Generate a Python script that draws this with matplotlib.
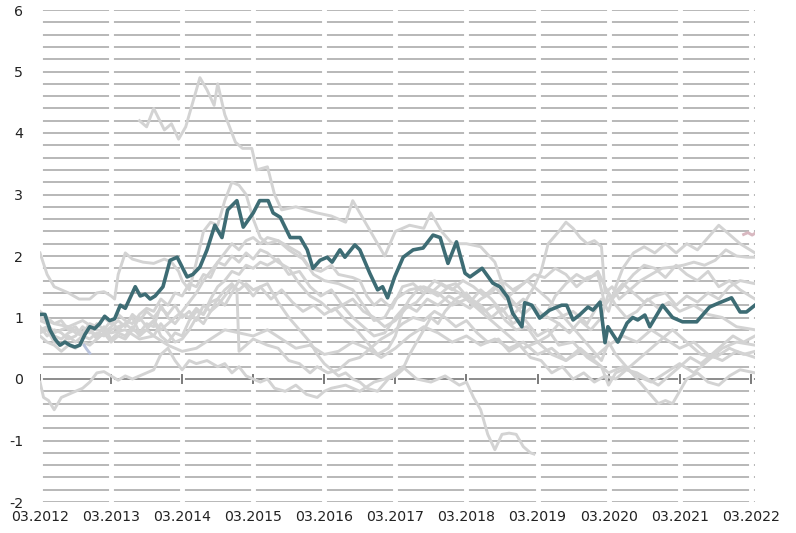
import numpy as np
import matplotlib.pyplot as plt

# x = years since 03.2012
year_labels = ["03.2012", "03.2013", "03.2014", "03.2015", "03.2016", "03.2017",
               "03.2018", "03.2019", "03.2020", "03.2021", "03.2022"]

main_t = [0.0, 0.07, 0.14, 0.21, 0.28, 0.35, 0.42, 0.49, 0.56, 0.63, 0.70, 0.77, 0.84, 0.91,
          0.98, 1.05, 1.13, 1.20, 1.34, 1.41, 1.48, 1.55, 1.62, 1.73, 1.83, 1.93, 2.07, 2.15,
          2.25, 2.35, 2.46, 2.56, 2.64, 2.77, 2.86, 3.0, 3.09, 3.21, 3.28, 3.38, 3.52, 3.66,
          3.76, 3.84, 3.94, 4.04, 4.11, 4.22, 4.29, 4.43, 4.50, 4.64, 4.75, 4.82, 4.89, 4.99,
          5.11, 5.25, 5.39, 5.53, 5.63, 5.74, 5.86, 5.98, 6.05, 6.22, 6.37, 6.47, 6.58, 6.65,
          6.78, 6.82, 6.92, 7.03, 7.17, 7.34, 7.41, 7.50, 7.59, 7.71, 7.78, 7.88, 7.95, 7.99,
          8.13, 8.26, 8.34, 8.41, 8.51, 8.58, 8.76, 8.90, 9.04, 9.24, 9.42, 9.56, 9.73, 9.85,
          9.94, 10.06]
main_v = [1.05, 1.05, 0.8, 0.65, 0.55, 0.6, 0.55, 0.52, 0.55, 0.72, 0.85, 0.82, 0.9, 1.02,
          0.95, 0.98, 1.2, 1.15, 1.5, 1.35, 1.38, 1.3, 1.35, 1.5, 1.93, 1.98, 1.66, 1.7,
          1.82, 2.1, 2.5, 2.3, 2.75, 2.9, 2.47, 2.7, 2.9, 2.9, 2.7, 2.63, 2.3, 2.3,
          2.1, 1.8, 1.93, 1.98, 1.9, 2.1, 1.98, 2.18, 2.1, 1.72, 1.45, 1.5, 1.32, 1.66,
          1.98, 2.1, 2.13, 2.34, 2.3, 1.88, 2.23, 1.72, 1.66, 1.8, 1.56, 1.5, 1.33, 1.07,
          0.85, 1.24, 1.2, 0.99, 1.12, 1.2, 1.2, 0.96, 1.04, 1.17, 1.12, 1.25, 0.59, 0.85,
          0.6, 0.91, 1.0, 0.96, 1.04, 0.85, 1.2, 1.0, 0.93, 0.93, 1.17, 1.24, 1.32, 1.09,
          1.09, 1.2]

g1_t = [1.4, 1.5, 1.6, 1.75, 1.85, 1.95, 2.05, 2.15, 2.25, 2.35, 2.45, 2.5, 2.6, 2.75, 2.85,
        2.98, 3.05, 3.2, 3.3, 3.4, 3.6, 3.9, 4.1, 4.3, 4.4, 4.55, 4.7, 4.85, 5.0, 5.2, 5.4,
        5.5, 5.65, 5.8, 6.0, 6.2, 6.4, 6.55, 6.7, 6.8, 7.0, 7.3]
g1_v = [4.2, 4.1, 4.4, 4.05, 4.15, 3.9, 4.1, 4.5, 4.9, 4.7, 4.45, 4.8, 4.3, 3.85, 3.75,
        3.75, 3.4, 3.45, 3.0, 2.75, 2.8, 2.7, 2.65, 2.55, 2.9, 2.6, 2.3, 2.0, 2.4, 2.5, 2.45,
        2.7, 2.4, 2.2, 2.2, 2.15, 1.9, 1.4, 1.2, 1.3, 1.1, 0.9]

g2_t = [0.0, 0.1, 0.2, 0.3, 0.4, 0.55, 0.7, 0.8, 0.9, 1.0, 1.05, 1.1, 1.2, 1.3, 1.45, 1.6,
        1.75, 1.85, 1.95, 2.0, 2.1, 2.2, 2.3, 2.4, 2.5, 2.6, 2.7, 2.8, 2.9, 3.0, 3.1, 3.2,
        3.35, 3.5, 3.7, 3.85, 4.0, 4.2, 4.4, 4.55, 4.7, 4.85, 5.0, 5.2, 5.4, 5.6, 5.8, 6.0,
        6.2, 6.4, 6.6, 6.8, 7.0, 7.2, 7.4, 7.6, 7.8, 8.0, 8.2, 8.4, 8.6, 8.8, 9.0, 9.2, 9.4,
        9.6, 9.8, 10.06]
g2_v = [2.05, 1.7, 1.5, 1.45, 1.4, 1.3, 1.3, 1.4, 1.42, 1.35, 1.3, 1.7, 2.05, 1.95, 1.9, 1.88,
        1.95, 1.9, 1.75, 1.6, 1.45, 1.9, 2.4, 2.55, 2.5, 2.9, 3.2, 3.15, 3.0, 2.6, 2.3, 2.2,
        2.25, 2.1, 1.95, 1.7, 1.6, 1.55, 1.45, 1.2, 0.95, 1.0, 1.3, 1.45, 1.5, 1.4, 1.2, 1.3,
        1.1, 0.9, 0.7, 0.5, 0.6, 0.4, 0.3, 0.5, 0.3, 0.1, 0.2, 0.05, -0.05, 0.1, 0.25, 0.1, 0.3,
        0.5, 0.6, 0.55]

g3_t = [0.0, 0.05, 0.12, 0.2, 0.3, 0.4, 0.5, 0.6, 0.7, 0.8, 0.9, 1.0, 1.1, 1.2, 1.3, 1.4,
        1.5, 1.6, 1.7, 1.8, 1.9, 2.0, 2.1, 2.2, 2.35, 2.5, 2.6, 2.7, 2.8, 2.9, 3.0, 3.1, 3.2,
        3.3, 3.45, 3.6, 3.75, 3.9, 4.0, 4.1, 4.3, 4.5, 4.7, 4.85, 5.0, 5.1, 5.3, 5.5, 5.7,
        5.9, 6.0, 6.1, 6.2, 6.3, 6.4, 6.5, 6.6, 6.7, 6.8, 6.9, 6.95]
g3_v = [-0.05, -0.3, -0.35, -0.5, -0.3, -0.25, -0.2, -0.15, -0.05, 0.1, 0.12, 0.05, -0.02,
        0.05, 0.0, 0.05, 0.1, 0.15, 0.4, 0.5, 0.3, 0.15, 0.3, 0.25, 0.3, 0.2, 0.25, 0.1, 0.2,
        0.05, 0.0, -0.05, 0.0, -0.15, -0.2, -0.1, -0.25, -0.3, -0.2, -0.15, -0.1, -0.2, -0.05,
        0.0, 0.1, 0.2, 0.0, -0.05, 0.05, -0.1, -0.05, -0.3, -0.5, -0.9, -1.15, -0.9, -0.88,
        -0.9, -1.1, -1.2, -1.22]

g4_t = [0.0, 0.1, 0.2, 0.3, 0.4, 0.5, 0.6, 0.7, 0.8, 0.9, 1.0, 1.1, 1.2, 1.3, 1.4, 1.5, 1.6,
        1.7, 1.8, 1.9, 2.0, 2.1, 2.2, 2.3, 2.4, 2.5, 2.6, 2.7, 2.8, 2.9, 3.0, 3.1, 3.2, 3.35,
        3.5, 3.65, 3.8, 3.95, 4.1, 4.2, 4.4, 4.5, 4.6, 4.7, 4.8, 4.95, 5.1, 5.25, 5.4, 5.55,
        5.7, 5.85, 6.0, 6.2, 6.35, 6.5, 6.65, 6.8, 7.0, 7.15, 7.3, 7.5, 7.7, 7.9, 8.0, 8.1,
        8.3, 8.5, 8.7, 8.9, 9.1, 9.3, 9.5, 9.7, 9.9, 10.06]
g4_v = [0.75, 0.8, 0.6, 0.55, 0.7, 0.6, 0.7, 0.65, 0.75, 0.7, 0.8, 0.85, 0.9, 0.8, 1.0, 0.85,
        0.95, 0.8, 0.9, 1.0, 1.1, 1.25, 1.4, 1.6, 1.75, 1.9, 2.05, 2.2, 2.1, 2.25, 2.3, 2.2,
        2.3, 2.25, 2.15, 2.05, 1.8, 1.75, 1.85, 1.7, 1.65, 1.6, 1.35, 1.2, 1.3, 1.15, 1.5,
        1.55, 1.4, 1.6, 1.5, 1.55, 1.35, 1.2, 1.0, 1.15, 0.9, 1.0, 0.7, 0.8, 0.55, 0.6, 0.35,
        0.2, -0.1, 0.1, 0.2, 0.4, 0.6, 0.8, 0.6, 0.4, 0.35, 0.5, 0.4, 0.45]

g5_t = [0.0, 0.1, 0.2, 0.3, 0.4, 0.5, 0.6, 0.7, 0.8, 0.9, 1.0, 1.1, 1.2, 1.3, 1.4, 1.5, 1.6,
        1.7, 1.8, 1.9, 2.0, 2.1, 2.2, 2.3, 2.4, 2.5, 2.6, 2.7, 2.8, 2.9, 3.0, 3.1, 3.2, 3.35,
        3.5, 3.65, 3.8, 3.9, 4.0, 4.1, 4.2, 4.3, 4.4, 4.5, 4.6, 4.75, 4.9, 5.0, 5.1, 5.2, 5.3,
        5.4, 5.5, 5.6, 5.7, 5.85, 6.0, 6.1, 6.25, 6.4, 6.55, 6.7, 6.85, 7.0, 7.15, 7.3, 7.45,
        7.6, 7.75, 7.9, 8.0, 8.1, 8.25, 8.4, 8.55, 8.7, 8.85, 9.0, 9.2, 9.4, 9.6, 9.8, 10.06]
g5_v = [0.85, 0.7, 0.8, 0.75, 0.65, 0.7, 0.85, 0.75, 0.9, 0.8, 0.95, 0.8, 0.9, 1.0, 0.75,
        0.8, 0.7, 0.9, 0.75, 0.6, 0.65, 0.8, 1.0, 0.9, 1.1, 1.2, 1.35, 1.5, 1.45, 1.55, 1.45,
        1.5, 1.55, 1.25, 1.0, 0.8, 0.6, 0.4, 0.25, 0.15, 0.05, 0.1, 0.0, -0.05, -0.15, -0.2,
        0.0, 0.05, 0.15, 0.4, 0.6, 0.8, 1.0, 0.9, 1.1, 1.3, 1.4, 1.25, 1.1, 1.2, 0.95, 0.8,
        0.85, 0.6, 0.7, 0.9, 0.75, 0.95, 0.8, 1.0, 1.4, 1.2, 1.0, 1.1, 1.3, 1.15, 1.25, 1.1,
        1.2, 1.05, 1.0, 0.85, 0.8]

g6_t = [0.0, 0.1, 0.2, 0.3, 0.4, 0.5, 0.6, 0.7, 0.8, 0.9, 1.0, 1.1, 1.2, 1.3, 1.4, 1.5, 1.6,
        1.7, 1.8, 1.9, 2.0, 2.1, 2.2, 2.3, 2.4, 2.5, 2.6, 2.7, 2.8, 2.9, 3.0, 3.1, 3.2, 3.35,
        3.5, 3.65, 3.8, 3.95, 4.1, 4.25, 4.4, 4.55, 4.7, 4.85, 5.0, 5.15, 5.3, 5.45, 5.6,
        5.75, 5.9, 6.05, 6.2, 6.35, 6.5, 6.65, 6.8, 6.95, 7.1, 7.25, 7.4, 7.55, 7.7, 7.85,
        7.95, 8.05, 8.2, 8.35, 8.5, 8.65, 8.8, 8.95, 9.1, 9.25, 9.4, 9.55, 9.7, 9.85, 10.06]
g6_v = [0.95, 0.9, 0.75, 0.8, 0.85, 0.75, 0.7, 0.8, 0.7, 0.85, 0.65, 0.75, 0.7, 0.85, 0.7,
        0.8, 0.95, 0.7, 0.6, 0.75, 0.7, 0.95, 1.1, 1.05, 1.3, 1.5, 1.6, 1.75, 1.7, 1.85, 1.8,
        1.9, 1.85, 1.95, 1.7, 1.75, 1.5, 1.35, 1.45, 1.2, 1.3, 1.1, 1.0, 0.85, 0.95, 1.15,
        1.25, 1.45, 1.35, 1.5, 1.4, 1.25, 1.45, 1.3, 1.1, 1.25, 1.05, 1.2, 1.0, 1.35, 1.55,
        1.7, 1.6, 1.75, 1.5, 1.3, 1.5, 1.7, 1.85, 1.8, 1.65, 1.85, 1.7, 1.6, 1.75, 1.5, 1.6,
        1.45, 1.3]

g7_t = [0.0, 0.1, 0.2, 0.3, 0.4, 0.5, 0.6, 0.7, 0.8, 0.9, 1.0, 1.1, 1.2, 1.3, 1.4, 1.5, 1.6,
        1.7, 1.8, 1.9, 2.0, 2.1, 2.2, 2.3, 2.4, 2.5, 2.6, 2.7, 2.77, 2.8, 2.9, 3.0, 3.1, 3.2,
        3.35, 3.5, 3.65, 3.8, 3.9, 4.05, 4.2, 4.35, 4.5, 4.65, 4.8, 4.95, 5.1, 5.25, 5.4,
        5.55, 5.7, 5.85, 6.0, 6.15, 6.3, 6.45, 6.6, 6.75, 6.9, 7.05, 7.2, 7.35, 7.5, 7.65,
        7.8, 7.95, 8.1, 8.25, 8.4, 8.55, 8.7, 8.85, 9.0, 9.15, 9.3, 9.45, 9.6, 9.75, 9.9, 10.06]
g7_v = [0.7, 0.6, 0.55, 0.45, 0.55, 0.5, 0.6, 0.55, 0.65, 0.75, 0.6, 0.7, 0.65, 0.8, 0.75,
        0.9, 0.85, 1.2, 1.0, 0.9, 1.05, 1.0, 1.15, 1.05, 1.25, 1.3, 1.45, 1.55, 1.45, 0.45,
        0.55, 0.65, 0.6, 0.55, 0.5, 0.3, 0.25, 0.1, 0.2, 0.1, 0.15, 0.3, 0.35, 0.5, 0.65, 0.75,
        0.9, 1.0, 0.95, 1.1, 1.0, 0.85, 0.95, 0.75, 0.6, 0.65, 0.45, 0.55, 0.35, 0.3, 0.1, 0.2,
        0.0, 0.1, -0.05, 0.05, 0.0, 0.15, 0.1, 0.0, -0.1, 0.05, 0.2, 0.35, 0.25, 0.4, 0.55,
        0.7, 0.6, 0.7]

g8_t = [0.0, 0.1, 0.2, 0.3, 0.4, 0.5, 0.6, 0.7, 0.8, 0.9, 1.0, 1.1, 1.2, 1.3, 1.4, 1.5, 1.6,
        1.7, 1.8, 1.9, 2.0, 2.1, 2.2, 2.3, 2.4, 2.5, 2.6, 2.7, 2.8, 2.9, 3.0, 3.1, 3.25, 3.4,
        3.55, 3.7, 3.85, 4.0, 4.15, 4.3, 4.45, 4.6, 4.75, 4.9, 5.0, 5.1, 5.2, 5.35, 5.5, 5.65,
        5.8, 5.95, 6.1, 6.25, 6.4, 6.55, 6.7, 6.85, 7.0, 7.15, 7.3, 7.45, 7.6, 7.75, 7.9, 8.0,
        8.1, 8.25, 8.4, 8.55, 8.7, 8.8, 8.9, 9.0, 9.1, 9.25, 9.4, 9.55, 9.7, 9.85, 10.06]
g8_v = [1.1, 1.0, 0.9, 0.95, 0.8, 0.85, 0.7, 0.8, 0.65, 0.75, 0.85, 0.95, 0.85, 1.05, 0.95,
        1.1, 1.0, 1.15, 1.05, 1.2, 1.0, 1.1, 0.95, 1.2, 1.1, 1.3, 1.2, 1.4, 1.6, 1.5, 1.35, 1.5,
        1.3, 1.45, 1.25, 1.1, 1.2, 1.05, 1.15, 0.95, 0.8, 0.6, 0.4, 0.5, 0.7, 1.1, 1.3, 1.5,
        1.4, 1.55, 1.45, 1.6, 1.5, 1.35, 1.5, 1.3, 1.45, 1.6, 1.45, 1.3, 1.1, 0.9, 0.7, 0.5,
        0.3, 0.6, 0.4, 0.2, 0.0, -0.2, -0.4, -0.35, -0.4, -0.2, 0.0, 0.1, -0.05, -0.1, 0.05,
        0.15, 0.1]

g9_t = [0.0, 0.1, 0.2, 0.3, 0.4, 0.5, 0.6, 0.7, 0.8, 0.9, 1.0, 1.1, 1.2, 1.3, 1.4, 1.5, 1.6,
        1.7, 1.8, 1.9, 2.0, 2.1, 2.2, 2.3, 2.4, 2.5, 2.6, 2.7, 2.8, 2.9, 3.0, 3.1, 3.2, 3.35,
        3.5, 3.65, 3.8, 3.95, 4.1, 4.25, 4.4, 4.55, 4.7, 4.85, 5.0, 5.15, 5.3, 5.45, 5.6, 5.75,
        5.9, 6.05, 6.2, 6.35, 6.5, 6.65, 6.8, 6.95, 7.1, 7.25, 7.4, 7.55, 7.7, 7.85, 7.95,
        8.05, 8.2, 8.35, 8.5, 8.65, 8.8, 8.95, 9.1, 9.25, 9.4, 9.55, 9.7, 9.85, 10.06]
g9_v = [0.8, 0.85, 0.7, 0.65, 0.75, 0.8, 0.75, 0.9, 0.85, 1.0, 0.9, 1.05, 0.95, 0.9, 1.05,
        1.15, 1.1, 1.3, 1.2, 1.4, 1.35, 1.55, 1.5, 1.7, 1.65, 1.9, 1.85, 2.0, 1.9, 2.05, 1.95,
        2.1, 2.05, 1.9, 1.8, 1.55, 1.35, 1.25, 1.1, 1.2, 1.0, 0.85, 0.7, 0.75, 1.0, 1.2, 1.1,
        1.3, 1.2, 1.35, 1.25, 1.15, 1.3, 1.4, 1.6, 1.45, 1.55, 1.7, 1.65, 1.8, 1.7, 1.5, 1.65,
        1.7, 1.2, 1.35, 1.55, 1.4, 1.25, 1.35, 1.4, 1.2, 1.35, 1.25, 1.4, 1.3, 1.5, 1.6, 1.55]

g10_t = [0.0, 0.2, 0.4, 0.6, 0.8, 1.0, 1.2, 1.4, 1.6, 1.8, 2.0, 2.2, 2.4, 2.6, 2.8, 3.0, 3.2,
         3.4, 3.6, 3.8, 4.0, 4.2, 4.4, 4.6, 4.8, 5.0, 5.2, 5.4, 5.6, 5.8, 6.0, 6.2, 6.4, 6.6,
         6.8, 7.0, 7.2, 7.4, 7.6, 7.8, 8.0, 8.2, 8.4, 8.6, 8.8, 9.0, 9.2, 9.4, 9.6, 9.8, 10.06]
g10_v = [1.0, 0.9, 0.85, 0.95, 0.8, 0.75, 0.8, 0.65, 0.7, 0.55, 0.45, 0.5, 0.65, 0.8, 0.75,
         0.7, 0.8, 0.65, 0.5, 0.55, 0.4, 0.45, 0.6, 0.5, 0.35, 0.5, 0.7, 0.85, 0.75, 0.6, 0.7,
         0.55, 0.65, 0.5, 0.6, 0.4, 0.5, 0.3, 0.45, 0.35, 0.55, 0.7, 0.6, 0.8, 0.65, 0.5, 0.6,
         0.4, 0.3, 0.45, 0.35]

g11_t = [6.6, 6.8, 6.95, 7.05, 7.15, 7.3, 7.4, 7.5, 7.6, 7.7, 7.8, 7.9, 7.95, 8.05, 8.15, 8.3,
         8.45, 8.6, 8.75, 8.9, 9.05, 9.2, 9.35, 9.5, 9.65, 9.8, 9.95, 10.06]
g11_v = [1.0, 1.2, 1.5, 1.75, 2.2, 2.4, 2.55, 2.45, 2.3, 2.2, 2.25, 2.15, 1.4, 1.5, 1.3, 1.45,
         1.6, 1.7, 1.8, 1.82, 1.85, 1.9, 1.85, 1.93, 2.1, 2.0, 1.98, 1.98]

g12_t = [7.3, 7.5, 7.7, 7.9, 8.0, 8.1, 8.2, 8.35, 8.5, 8.65, 8.8, 8.95, 9.1, 9.25, 9.4, 9.55,
         9.7, 9.85, 10.06]
g12_v = [1.0, 1.1, 0.9, 1.3, 1.1, 1.5, 1.8, 2.05, 2.15, 2.05, 2.2, 2.05, 2.2, 2.1, 2.3, 2.5,
         2.35, 2.2, 2.05]

blue_t = [0.62, 0.66, 0.70]
blue_v = [0.55, 0.48, 0.42]
pink_t = [9.9, 9.96, 10.02, 10.06]
pink_v = [2.35, 2.38, 2.34, 2.37]

grey_series = [(g1_t, g1_v), (g2_t, g2_v), (g3_t, g3_v), (g4_t, g4_v), (g5_t, g5_v),
               (g6_t, g6_v), (g7_t, g7_v), (g8_t, g8_v), (g9_t, g9_v), (g10_t, g10_v),
               (g11_t, g11_v), (g12_t, g12_v)]

fig = plt.figure(figsize=(7.96, 5.33), dpi=100)
ax = fig.add_axes([40 / 796, 1 - 502 / 533, 715 / 796, 492 / 533])

xmax = 10.06
# horizontal grid every 0.2, broken by white gaps at each year
for y in np.arange(-2, 6.01, 0.2):
    if abs(y) < 1e-6:
        continue
    ax.axhline(y, color="#b2b2b2", lw=1.3, zorder=1)
ax.axhline(0, color="#8c8c8c", lw=1.4, zorder=1)
for k in range(len(year_labels)):
    ax.axvline(k, color="white", lw=3.5, zorder=1.5)
    ax.plot([k, k], [-0.07, 0.07], color="#7a7a7a", lw=1.4, zorder=1.6)

for t, v in grey_series:
    ax.plot(t, v, color="#d3d3d3", lw=2.1, zorder=2, solid_joinstyle="round")
ax.plot(blue_t, blue_v, color="#b8c2dc", lw=2.1, zorder=2)
ax.plot(pink_t, pink_v, color="#d8b8c0", lw=2.1, zorder=2)
ax.plot(main_t, main_v, color="#3d6c74", lw=2.6, zorder=3, solid_joinstyle="round")

ax.set_xlim(0, xmax)
ax.set_ylim(-2, 6)
ax.set_xticks(range(len(year_labels)))
ax.set_xticklabels(year_labels, fontsize=10.2, color="#222222")
ax.set_yticks(range(-2, 7))
ax.set_yticklabels([str(v) for v in range(-2, 7)], fontsize=10.2, color="#222222")
ax.tick_params(length=0, pad=6)
ax.tick_params(axis="y", pad=12)
for s in ax.spines.values():
    s.set_visible(False)

fig.savefig("out.png", dpi=100)
